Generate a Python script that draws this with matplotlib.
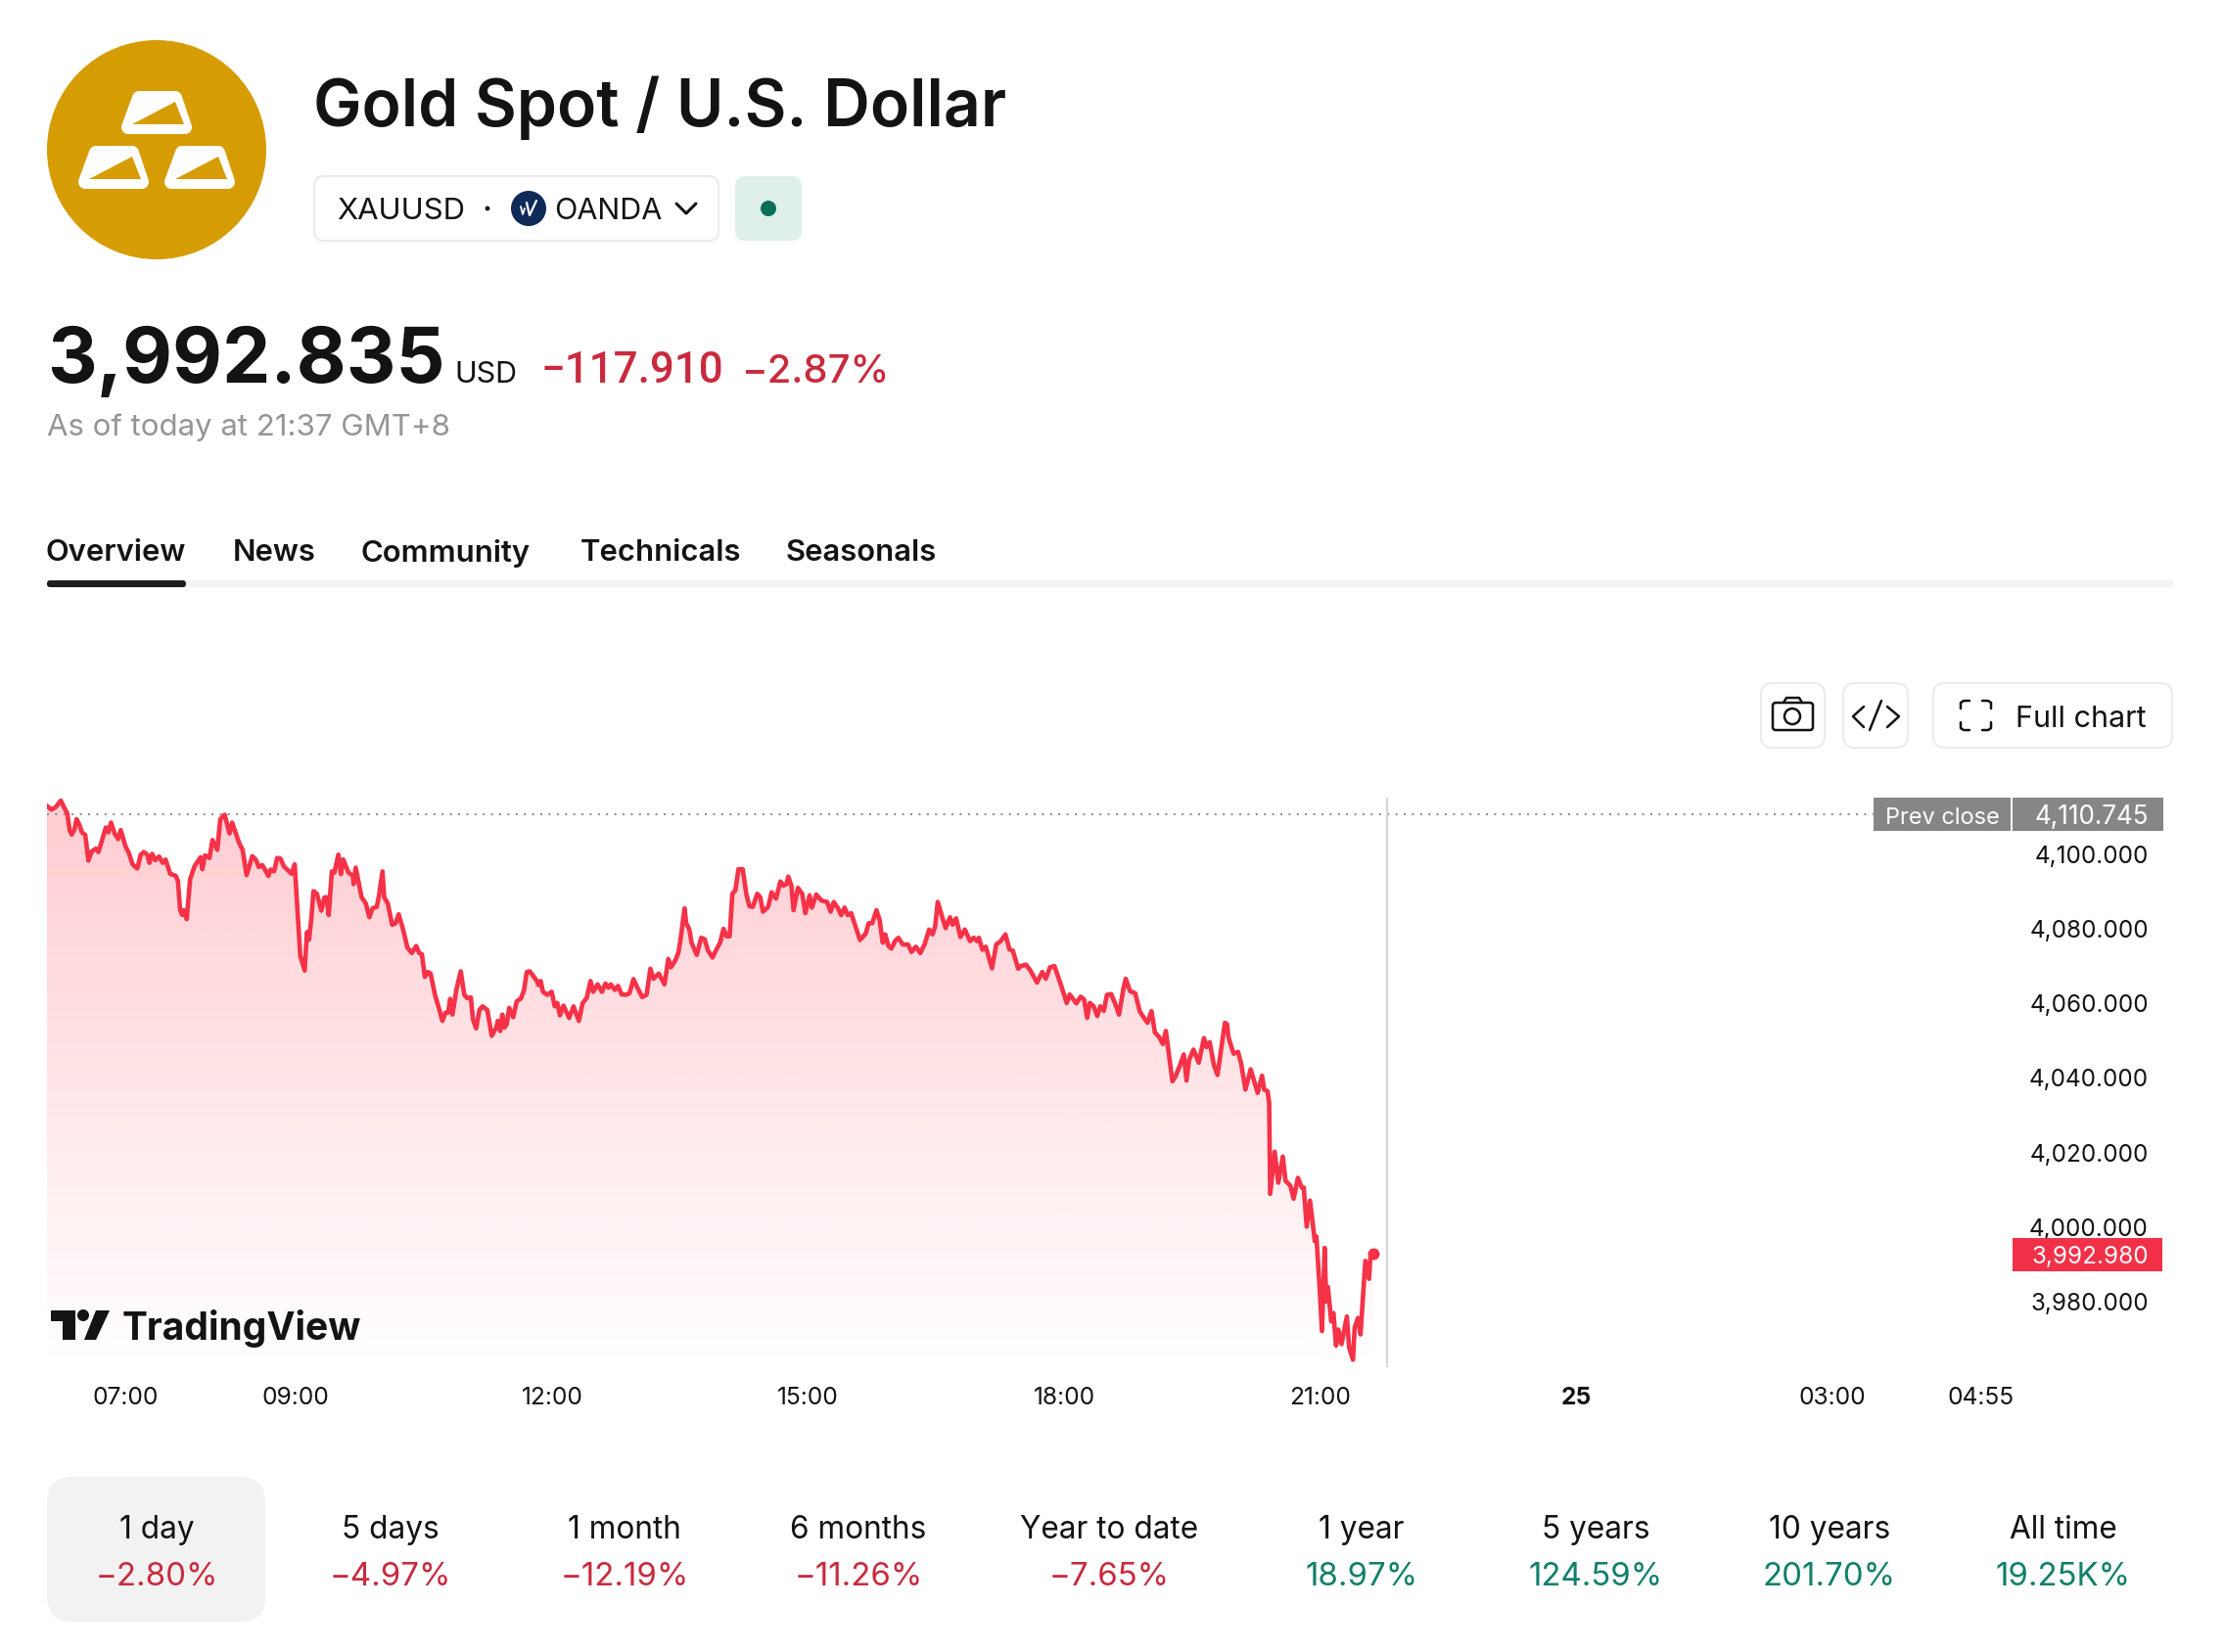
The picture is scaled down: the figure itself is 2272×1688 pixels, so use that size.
"""
Gold spot one-day quote page: header, intraday price chart, range performance row
"""
import numpy as np
import matplotlib
matplotlib.use("Agg")
import matplotlib.pyplot as plt
from matplotlib.patches import Circle, FancyBboxPatch, PathPatch, Polygon, Rectangle
from matplotlib.path import Path

plt.rcParams['font.family'] = ['Inter', 'DejaVu Sans']

## session data, minutes after midnight and price
session_minutes = [
    364.9, 368, 371, 374.7, 377, 379.3, 380.9, 382.4, 384.2, 385.8, 387.9, 389.5, 391.9, 394.1, 396.5,
    399.3, 401.1, 402.7, 406.4, 408.2, 410, 412.5, 415, 416.8, 420.2, 422.6, 425.1, 428.5, 430.9, 433.1,
    435.5, 437, 438.9, 441, 443.8, 446.3, 448.4, 451.5, 455.5, 457, 458.6, 460.1, 461, 463.2, 465.6,
    468.7, 473, 474.2, 476.1, 479.2, 481.3, 484.7, 486.8, 489.9, 493.3, 495.1, 500.1, 502.5, 505.3, 509.3,
    511.7, 513.9, 516.3, 518.5, 520.6, 522.2, 524.6, 526.8, 529.2, 531.4, 533.8, 536.9, 539.1, 540.9, 543,
    546.1, 547.7, 549.2, 550.7, 552.3, 554.7, 557.8, 560, 561.5, 563, 565.2, 567, 569.8, 571.6, 573.2,
    576.9, 580, 580.5, 582, 586.1, 589.1, 591.6, 593.8, 596.8, 598.4, 600.8, 602, 604.5, 607.6, 610,
    612.2, 615.3, 618.3, 621.4, 624.5, 626.6, 628.5, 630.6, 632.8, 634.6, 637.7, 639.8, 642.9, 645, 646.9,
    648.4, 650, 652.7, 655.8, 658.3, 660.4, 662.9, 664.4, 666.6, 669, 671.2, 674.5, 677.6, 680.7, 681.9,
    683.5, 685, 686.5, 688.1, 689.9, 692.7, 695.1, 698.2, 700.3, 702.2, 704.3, 709, 710.5, 712, 713.6,
    716.6, 719.7, 721.9, 723.7, 725.5, 728, 732, 735.1, 738.8, 741.5, 744.3, 747, 748.9, 752, 755,
    757.5, 759.6, 761.2, 764.2, 766.4, 768.9, 772, 774.4, 777.2, 779.6, 783.3, 786.4, 789.1, 791.3, 795,
    799, 801.7, 803.6, 806.6, 808.8, 810.3, 813.1, 814.3, 816.5, 818, 821.7, 824.8, 827.2, 829.7, 832.8,
    835, 838.1, 840.5, 842.7, 844.8, 846.7, 848.8, 851, 854, 856.5, 858.7, 861.1, 864.2, 866.3, 868.2,
    871.9, 874.3, 877.4, 880.5, 882.6, 884.8, 886, 888.2, 889.7, 892.8, 895.8, 898, 901, 902.6, 905.7,
    909.3, 913.3, 915.8, 918, 921, 923.2, 925.6, 927.8, 930.2, 933.3, 936.4, 940.4, 942.5, 945, 948,
    950.2, 952.4, 954.2, 956.4, 958.5, 961, 963.4, 966.5, 970.2, 972.6, 975.7, 978.8, 981.8, 985, 987.4,
    989.2, 991.1, 994.1, 996.6, 999.7, 1001.5, 1004, 1007, 1010.1, 1013.8, 1016.3, 1018.7, 1020, 1022.4, 1024.8,
    1029.2, 1032.2, 1035.3, 1038.7, 1041.4, 1043.9, 1047.6, 1049.4, 1053.1, 1056.2, 1060.8, 1064.5, 1067, 1070, 1073.1,
    1077.7, 1081.7, 1083.8, 1088.5, 1091.5, 1094, 1096.1, 1098, 1100.7, 1103.2, 1105.3, 1107.8, 1110, 1113, 1116.1,
    1118.5, 1121.6, 1123.2, 1126.2, 1129.9, 1133, 1136, 1138.5, 1141.3, 1143.7, 1146.8, 1149.3, 1151.4, 1156, 1158.2,
    1161.6, 1164, 1165.9, 1167.7, 1170.8, 1174.5, 1178.2, 1180, 1182.2, 1185.2, 1187.7, 1192.9, 1194.4, 1195.4, 1199,
    1202.1, 1204.3, 1207.3, 1211, 1215.9, 1219, 1220.5, 1222.9, 1224, 1224.7, 1227.9, 1230.4, 1233.6, 1235.5, 1238.9,
    1241.2, 1244.2, 1246.9, 1248.3, 1250.4, 1252.7, 1256.1, 1257.2, 1259.5, 1261.1, 1263, 1264.1, 1265.3, 1267.6, 1269.2,
    1271, 1272.6, 1274.9, 1278.6, 1280.2, 1282.9, 1284.1, 1286.4, 1288.2, 1291.6, 1294.2, 1295.1, 1297,
]
session_prices = [
    4113.0, 4112.0, 4112.6, 4114.4, 4112.6, 4110.9, 4106.5, 4105.3, 4106.5, 4109.4, 4107.8, 4105.9, 4105.2, 4098.3, 4100.8,
    4101.5, 4100.6, 4102.5, 4107.2, 4105.9, 4108.5, 4105.6, 4104.1, 4106.5, 4102.1, 4100.3, 4097.3, 4096.2, 4099.9, 4100.6,
    4099.9, 4097.7, 4100.1, 4098.4, 4099.4, 4097.7, 4098.6, 4094.8, 4094.2, 4092.9, 4085.0, 4083.7, 4085.0, 4082.6, 4093.3,
    4096.8, 4099.2, 4096.0, 4099.7, 4099.0, 4103.8, 4101.2, 4109.4, 4110.6, 4105.6, 4108.5, 4103.0, 4101.2, 4094.4, 4099.5,
    4098.6, 4096.6, 4097.1, 4095.7, 4094.2, 4095.9, 4095.4, 4099.0, 4098.8, 4096.8, 4095.9, 4094.8, 4097.3, 4085.9, 4072.8,
    4068.8, 4079.1, 4077.1, 4082.4, 4090.1, 4089.4, 4084.9, 4088.4, 4088.5, 4083.7, 4095.4, 4095.1, 4099.9, 4094.7, 4098.6,
    4095.1, 4094.2, 4092.0, 4096.4, 4088.5, 4086.8, 4083.1, 4085.5, 4085.9, 4089.0, 4095.4, 4088.5, 4086.8, 4081.1, 4081.5,
    4083.9, 4079.8, 4075.0, 4073.5, 4075.4, 4073.5, 4073.2, 4067.1, 4068.4, 4068.0, 4062.3, 4059.6, 4055.3, 4057.5, 4057.5,
    4061.2, 4057.0, 4063.6, 4068.6, 4062.3, 4061.4, 4061.6, 4055.7, 4053.3, 4058.3, 4059.2, 4058.2, 4051.3, 4053.5, 4055.3,
    4052.6, 4057.0, 4053.5, 4054.4, 4058.8, 4056.3, 4060.5, 4061.4, 4063.6, 4068.4, 4068.6, 4066.2, 4064.9, 4066.0, 4063.1,
    4062.3, 4063.1, 4059.2, 4060.1, 4056.8, 4059.4, 4056.1, 4059.2, 4055.3, 4060.1, 4061.4, 4066.0, 4063.1, 4065.1, 4063.1,
    4065.3, 4064.2, 4065.1, 4063.6, 4064.7, 4062.4, 4062.3, 4062.7, 4066.5, 4064.5, 4061.7, 4062.3, 4069.3, 4066.6, 4068.0,
    4065.1, 4071.9, 4069.7, 4071.5, 4073.6, 4077.2, 4085.5, 4081.5, 4079.8, 4076.3, 4073.0, 4077.6, 4077.2, 4074.1, 4072.3,
    4074.1, 4076.3, 4080.0, 4078.0, 4078.0, 4089.4, 4090.3, 4096.0, 4096.0, 4089.4, 4086.1, 4085.9, 4089.4, 4088.5, 4084.6,
    4085.9, 4089.8, 4088.1, 4092.7, 4091.6, 4092.0, 4094.0, 4091.6, 4085.0, 4091.0, 4089.4, 4084.2, 4089.0, 4085.7, 4089.2,
    4087.6, 4087.2, 4084.6, 4087.2, 4085.5, 4083.7, 4085.7, 4083.7, 4084.2, 4080.6, 4077.0, 4078.7, 4081.5, 4081.5, 4085.0,
    4082.4, 4076.3, 4078.5, 4075.4, 4074.7, 4076.7, 4077.6, 4075.8, 4075.8, 4073.8, 4075.2, 4073.5, 4075.8, 4079.8, 4078.5,
    4080.6, 4087.2, 4083.3, 4080.2, 4083.1, 4081.1, 4082.8, 4077.8, 4079.8, 4076.7, 4077.6, 4076.7, 4077.6, 4074.4, 4075.2,
    4069.4, 4075.8, 4076.7, 4078.5, 4074.5, 4074.1, 4069.3, 4070.0, 4070.4, 4068.8, 4065.6, 4068.4, 4066.6, 4069.7, 4070.0,
    4064.9, 4060.1, 4062.4, 4060.0, 4061.8, 4061.0, 4056.1, 4060.1, 4059.2, 4056.6, 4059.2, 4058.0, 4062.3, 4062.5, 4059.6,
    4057.0, 4064.0, 4066.6, 4063.3, 4062.7, 4057.9, 4056.1, 4054.8, 4057.9, 4052.2, 4050.9, 4049.1, 4052.6, 4039.1, 4040.4,
    4043.7, 4046.3, 4039.3, 4044.8, 4047.6, 4044.1, 4050.7, 4048.3, 4049.6, 4043.4, 4040.8, 4054.8, 4054.4, 4050.9, 4046.5,
    4047.0, 4043.9, 4036.9, 4042.3, 4036.0, 4040.6, 4036.9, 4036.4, 4033.4, 4008.9, 4020.2, 4011.9, 4018.9, 4012.4, 4011.1,
    4007.6, 4013.2, 4010.6, 4010.6, 4000.1, 4007.1, 3996.2, 3997.5, 3983.5, 3972.1, 3994.4, 3980.0, 3983.9, 3974.7, 3976.9,
    3968.2, 3972.5, 3968.6, 3976.0, 3967.7, 3964.4, 3973.0, 3975.6, 3971.2, 3990.9, 3986.1, 3991.8, 3992.98,
]

prev_close = 4110.745
last_price = 3992.98

price_ticks = [4100, 4080, 4060, 4040, 4020, 4000, 3980]
time_ticks = [420, 540, 720, 900, 1080, 1260, 1440, 1620, 1724]
time_labels = ['07:00', '09:00', '12:00', '15:00', '18:00', '21:00', '25', '03:00', '04:55']

range_names = ['1 day', '5 days', '1 month', '6 months', 'Year to date', '1 year', '5 years', '10 years', 'All time']
range_changes = ['\u22122.80%', '\u22124.97%', '\u221212.19%', '\u221211.26%', '\u22127.65%',
                 '18.97%', '124.59%', '201.70%', '19.25K%']
range_centers = [160, 399, 638, 877, 1133, 1391, 1630, 1869, 2108]

tab_names = ['Overview', 'News', 'Community', 'Technicals', 'Seasonals']
tab_lefts = [48, 239, 370, 594, 803]

INK = '#131313'
RED = '#c92a3e'
GREEN = '#11806a'
LINE_RED = '#f53248'
GOLD = '#d69c03'


def pt(px):
    # sizes below are measured in pixels of the 100 dpi canvas
    return px*0.72


def rounded(ui, x0, y0, x1, y1, r, fc='white', ec='none', lw=0):
    ui.add_patch(FancyBboxPatch((x0, y0), x1 - x0, y1 - y0, boxstyle='round,pad=0,rounding_size=%g' % r,
                                fc=fc, ec=ec, lw=lw))


def stroke(ui, xs, ys, lw=2.5, color=INK):
    ui.plot(xs, ys, color=color, lw=pt(lw), solid_capstyle='round', solid_joinstyle='round')


def draw_header(ui):
    ## gold coin with three bars
    ui.add_patch(Circle((160, 153), 112, fc=GOLD, ec='none'))
    for dx, dy in [(0, 0), (-44, 56), (44, 56)]:
        outer = [(142, 100), (179, 100), (189, 130), (131, 130)]
        inner = [(135, 127), (179, 104), (188, 127)]
        ui.add_patch(Polygon([(x + dx, y + dy) for x, y in outer], closed=True, fc='white', ec='white',
                             lw=pt(14), joinstyle='round'))
        ui.add_patch(Polygon([(x + dx, y + dy) for x, y in inner], closed=True, fc=GOLD, ec='none'))

    ui.text(320, 103, 'Gold Spot / U.S. Dollar', fontsize=pt(66), fontweight='semibold', color=INK, va='center_baseline')

    ## symbol pill
    rounded(ui, 321, 180, 734, 246, 10, ec='#ebebeb', lw=1.5)
    ui.text(344, 213, 'XAUUSD', fontsize=pt(31), color=INK, va='center_baseline')
    ui.add_patch(Circle((498, 213), 2.4, fc=INK, ec='none'))
    ui.add_patch(Circle((540, 213), 18, fc='#0f2a58', ec='none'))
    stroke(ui, [532, 534, 536], [211, 219, 213], lw=1.8, color='white')
    stroke(ui, [538, 541, 548], [207, 220, 205], lw=2.2, color='white')
    ui.text(566, 213, 'OANDA', fontsize=pt(30.5), color=INK, va='center_baseline')
    stroke(ui, [691, 701, 711], [208, 218, 208], lw=3)
    rounded(ui, 751, 180, 819, 246, 10, fc='#dff0ec')
    ui.add_patch(Circle((785, 213), 8, fc='#0b6e5d', ec='none'))

    ## quote
    ui.text(48, 391, '3,992.835', fontsize=pt(78.5), fontweight='bold', color=INK)
    ui.text(464, 391, 'USD', fontsize=pt(30.5), color=INK)
    ui.text(553, 391, '\u2212117.910', fontsize=pt(44), fontweight='medium', color=RED,
            family=['Roboto', 'DejaVu Sans'])
    ui.text(757, 391, '\u22122.87%', fontsize=pt(40), fontweight='medium', color=RED)
    ui.text(48, 434, 'As of today at 21:37 GMT+8', fontsize=pt(31.2), color='#959595', va='center_baseline')

    ## tabs
    for name, left in zip(tab_names, tab_lefts):
        ui.text(left - 1, 562, name, fontsize=pt(31), fontweight='semibold', color=INK, va='center_baseline')
    ui.add_patch(Rectangle((48, 593), 2172, 7, fc='#f2f2f2', ec='none'))
    rounded(ui, 48, 593, 190, 600, 3, fc='#1c1c1c')


def draw_buttons(ui):
    rounded(ui, 1799, 698, 1864, 764, 12, ec='#ebebeb', lw=1.5)
    rounded(ui, 1883, 698, 1949, 764, 12, ec='#ebebeb', lw=1.5)
    rounded(ui, 1975, 698, 2219, 764, 12, ec='#ebebeb', lw=1.5)

    # camera
    rounded(ui, 1811, 718, 1852, 746, 3, ec=INK, lw=pt(2.5))
    stroke(ui, [1822, 1825, 1838, 1841], [718, 713, 713, 718])
    ui.add_patch(Circle((1831, 732), 8, fc='none', ec=INK, lw=pt(2.5)))

    # embed code
    stroke(ui, [1904, 1893, 1904], [722, 732, 743])
    stroke(ui, [1928, 1940, 1928], [722, 732, 743])
    stroke(ui, [1922, 1910], [716, 746])

    # full screen corners
    stroke(ui, [2003, 2003, 2006, 2012], [724, 718, 716, 716])
    stroke(ui, [2025, 2031, 2034, 2034], [716, 716, 718, 724])
    stroke(ui, [2003, 2003, 2006, 2012], [738, 744, 746, 746])
    stroke(ui, [2025, 2031, 2034, 2034], [746, 746, 744, 738])
    ui.text(2059, 732, 'Full chart', fontsize=pt(30.5), color=INK, va='center_baseline')


def draw_range_row(ui):
    rounded(ui, 48, 1509, 271, 1657, 26, fc='#f2f2f2')
    for name, change, center in zip(range_names, range_changes, range_centers):
        ui.text(center, 1560, name, fontsize=pt(31.6), color=INK, ha='center', va='center_baseline')
        color = RED if change.startswith('\u2212') else GREEN
        ui.text(center, 1608, change, fontsize=pt(33), color=color, ha='center', va='center_baseline')


def draw_watermark(ui):
    ui.add_patch(Polygon([(52, 1339), (77, 1339), (77, 1369), (64, 1369), (64, 1350), (52, 1350)],
                         closed=True, fc=INK, ec='none'))
    ui.add_patch(Circle((85, 1344), 6, fc=INK, ec='none'))
    ui.add_patch(Polygon([(98, 1339), (112, 1339), (98, 1369), (86, 1369)], closed=True, fc=INK, ec='none'))
    ui.text(125, 1369, 'TradingView', fontsize=pt(39), fontweight='bold', color=INK)


def draw_chart(ax):
    t = np.array(session_minutes)
    p = np.array(session_prices)

    ax.set_xlim(365, 1746.5)
    ax.set_ylim(3962.4, 4115.2)
    xlim, ylim = ax.get_xlim(), ax.get_ylim()

    ## area under the line, faded down to white
    area = ax.fill_between(t, p, ylim[0], facecolor='none', edgecolor='none')
    clip = PathPatch(Path(area.get_paths()[0].vertices), fc='none', ec='none', transform=ax.transData)
    ax.add_patch(clip)
    shade = np.zeros((256, 1, 4))
    shade[:, 0, :3] = matplotlib.colors.to_rgb('#ff3045')
    shade[:, 0, 3] = np.linspace(0.25, 0.0, 256)
    im = ax.imshow(shade, extent=[xlim[0], xlim[1], ylim[0], ylim[1]], aspect='auto', origin='upper', zorder=1)
    im.set_clip_path(clip)
    ax.set_xlim(xlim)
    ax.set_ylim(ylim)

    ## previous close and the current bar marker
    ax.axhline(prev_close, xmax=(1914 - 48)/2008, color='#8c8c8c', lw=pt(2), ls=(0, (1, 3.2)), zorder=2)
    ax.axvline(1306.8, color='#d4d4d4', lw=pt(2), zorder=2)

    ax.plot(t, p, color=LINE_RED, lw=pt(4.6), solid_joinstyle='round', zorder=3)
    ax.plot(t[-1], p[-1], 'o', color=LINE_RED, ms=pt(12), mew=0, zorder=4)

    ax.set_yticks(price_ticks)
    ax.set_yticklabels(['{:,.3f}'.format(v) for v in price_ticks], fontsize=pt(24.2), color=INK, ha='right')
    ax.yaxis.tick_right()
    ax.tick_params(axis='y', length=0, pad=pt(139))
    ax.set_xticks(time_ticks)
    ax.set_xticklabels(time_labels, fontsize=pt(24.6), color=INK)
    ax.tick_params(axis='x', length=0, pad=pt(20))
    ax.get_xticklabels()[time_labels.index('25')].set_fontweight('bold')
    for s in ax.spines.values():
        s.set_visible(False)

    ## price flags on the scale, x in axes fraction
    to_ax = lambda px: (px - 48)/2008
    flags = ax.get_yaxis_transform()
    flag_h = 34/3.808
    ax.add_patch(Rectangle((to_ax(1914), prev_close - flag_h/2), 140/2008, flag_h, fc='#868686', ec='none',
                           transform=flags, clip_on=False, zorder=5))
    ax.add_patch(Rectangle((to_ax(2056), prev_close - flag_h/2), 154/2008, flag_h, fc='#868686', ec='none',
                           transform=flags, clip_on=False, zorder=5))
    ax.add_patch(Rectangle((to_ax(2056), last_price - flag_h/2 - 0.3), 153/2008, flag_h, fc='#f23148', ec='none',
                           transform=flags, clip_on=False, zorder=5))
    ax.text(to_ax(1926), prev_close - 0.4, 'Prev close', transform=flags, color='white', fontsize=pt(23.5),
            va='center_baseline', zorder=6)
    ax.text(to_ax(2195), prev_close, '{:,.3f}'.format(prev_close), transform=flags, color='white', fontsize=pt(26),
            ha='right', va='center_baseline', zorder=6)
    ax.text(to_ax(2195), last_price - 0.3, '{:,.3f}'.format(last_price), transform=flags, color='white',
            fontsize=pt(24.2), ha='right', va='center_baseline', zorder=6)


def main():
    fig = plt.figure(figsize=(22.72, 16.88), dpi=100, facecolor='white')

    ## page furniture in canvas pixels, y downwards
    ui = fig.add_axes([0, 0, 1, 1], zorder=0)
    ui.set_xlim(0, 2272)
    ui.set_ylim(1688, 0)
    ui.axis('off')
    draw_header(ui)
    draw_buttons(ui)
    draw_range_row(ui)

    ax = fig.add_axes([48/2272, 1 - 1397/1688, 2008/2272, (1397 - 815)/1688], zorder=1)
    ax.patch.set_alpha(0)
    draw_chart(ax)

    ## watermark sits on top of the chart
    top = fig.add_axes([0, 0, 1, 1], zorder=2)
    top.set_xlim(0, 2272)
    top.set_ylim(1688, 0)
    top.axis('off')
    draw_watermark(top)

    fig.savefig('out.png', dpi=100)
    plt.close()


if __name__ == "__main__":
    main()
